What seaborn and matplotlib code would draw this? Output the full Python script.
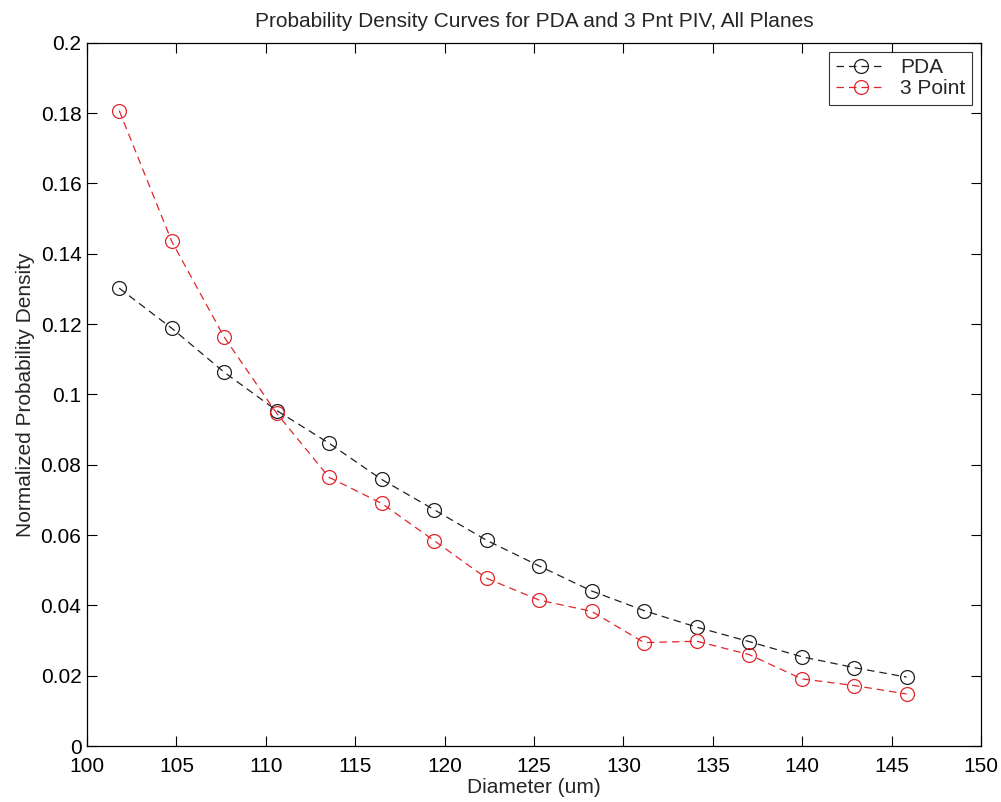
import matplotlib
matplotlib.use("Agg")
import matplotlib.pyplot as plt
import pandas as pd
import seaborn as sns
from matplotlib.ticker import FormatStrFormatter

# valores
diametro = [101.80, 104.74, 107.67, 110.61, 113.54, 116.48, 119.42, 122.35,
            125.29, 128.22, 131.16, 134.10, 137.03, 139.97, 142.90, 145.84]
pda = [0.1302, 0.1188, 0.1063, 0.0954, 0.0861, 0.0758, 0.0672, 0.0585,
       0.0512, 0.0441, 0.0385, 0.0338, 0.0297, 0.0254, 0.0223, 0.0196]
tres_puntos = [0.1807, 0.1435, 0.1163, 0.0946, 0.0764, 0.0690, 0.0584, 0.0477,
               0.0415, 0.0383, 0.0294, 0.0298, 0.0260, 0.0191, 0.0172, 0.0148]

df = pd.DataFrame({"diametro": diametro, "PDA": pda, "3 Point": tres_puntos})

sns.set_style("ticks")
plt.rcParams["font.family"] = ["Liberation Sans", "DejaVu Sans"]

fig = plt.figure(figsize=(10.01, 8.02), dpi=100)
ax = fig.add_axes([0.0869, 0.0698, 0.8931, 0.877])

for col, color in [("PDA", "#202020"), ("3 Point", "#e0262b")]:
    sns.lineplot(data=df, x="diametro", y=col, ax=ax, color=color, label=col,
                 linestyle=(0, (6, 4)), linewidth=0.9, marker="o", markersize=10,
                 markerfacecolor="none", markeredgecolor=color, markeredgewidth=0.9)

ax.set_xlim(100, 150)
ax.set_ylim(0, 0.2)
ax.set_xticks(range(100, 151, 5))
ax.set_yticks([i * 0.02 for i in range(11)])
ax.yaxis.set_major_formatter(FormatStrFormatter("%g"))
ax.tick_params(direction="in", length=7, width=0.8, top=True, right=True,
               labelsize=15, colors="black", pad=4)
ax.tick_params(axis="x", pad=8)
for s in ax.spines.values():
    s.set_linewidth(0.9)
    s.set_color("black")

ax.set_title("Probability Density Curves for PDA and 3 Pnt PIV, All Planes",
             fontsize=15, pad=11)
ax.set_xlabel("Diameter (um)", fontsize=15, labelpad=1)
ax.set_ylabel("Normalized Probability Density", fontsize=15, labelpad=4)

leg = ax.legend(loc="upper right", fontsize=15, frameon=True, fancybox=False,
                edgecolor="black", borderaxespad=0.45, handlelength=2.4,
                borderpad=0.3, labelspacing=0.1, handletextpad=0.7)
leg.get_frame().set_linewidth(0.8)

fig.savefig("out.png", dpi=100)
